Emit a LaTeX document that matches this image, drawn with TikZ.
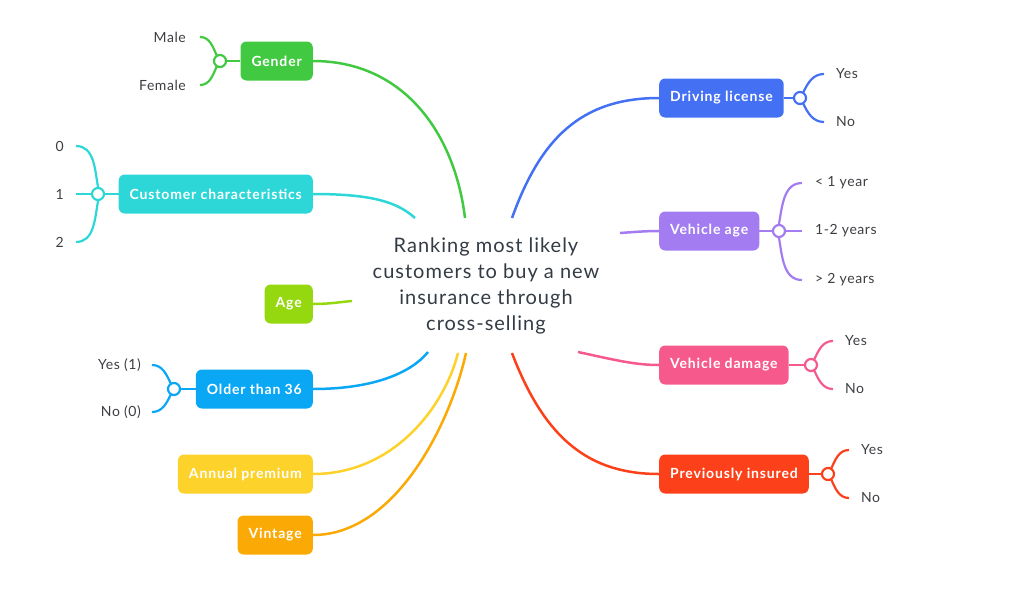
\documentclass[tikz,border=0pt]{standalone}
\usepackage{fontspec}
\setmainfont{Lato}
\newfontfamily\rootfont[LetterSpace=5]{Lato}
\newfontfamily\topicfont[LetterSpace=6]{Lato}
\newfontfamily\leaffont[LetterSpace=4]{Lato}
\definecolor{cgender}{RGB}{65,201,65}
\definecolor{ccust}{RGB}{45,215,215}
\definecolor{cage}{RGB}{150,216,15}
\definecolor{colder}{RGB}{10,167,245}
\definecolor{cannual}{RGB}{252,210,43}
\definecolor{cvintage}{RGB}{251,170,5}
\definecolor{cdrive}{RGB}{68,112,244}
\definecolor{cvage}{RGB}{162,124,240}
\definecolor{cdamage}{RGB}{246,90,141}
\definecolor{cinsured}{RGB}{252,65,26}
\definecolor{cleaf}{RGB}{60,62,66}
\definecolor{croot}{RGB}{51,59,68}
\begin{document}
\begin{tikzpicture}[
    x=1pt, y=-1pt,
    root/.style={align=center, text=croot, font=\rootfont\fontsize{20}{26}\selectfont},
    topic/.style={rounded corners=6pt, minimum height=39pt, inner xsep=11pt, text=white, font=\topicfont\bfseries\fontsize{14}{16}\selectfont},
    hub/.style={circle, draw, fill=white, line width=2.2pt, minimum size=12pt, inner sep=0pt},
    leaf/.style={text=cleaf, inner sep=0pt, font=\leaffont\fontsize{14}{16}\selectfont},
    link/.style={line width=2.5pt},
    twig/.style={line width=2.2pt}
]
\useasboundingbox (0,0) rectangle (1021,600);

% Central topic
\node[root] (root) at (486,286) {Ranking most likely\\customers to buy a new\\insurance through\\cross-selling};

% Ends of the links at the central topic
\coordinate (rgender) at (465,218);
\coordinate (rcust) at (415,218);
\coordinate (rage) at (352,301);
\coordinate (rolder) at (428,352);
\coordinate (rannual) at (458,353);
\coordinate (rvintage) at (466,353);
\coordinate (rdrive) at (512,218);
\coordinate (rvage) at (620,233);
\coordinate (rdamage) at (578,352);
\coordinate (rinsured) at (512,353);

% Left topics
\node[topic, fill=cgender, anchor=east] (gender) at (313,61) {Gender};
\node[topic, fill=ccust, anchor=east] (cust) at (313,194) {Customer characteristics};
\node[topic, fill=cage, anchor=east] (age) at (313,304) {Age};
\node[topic, fill=colder, anchor=east] (older) at (313,389) {Older than 36};
\node[topic, fill=cannual, anchor=east] (annual) at (313,474) {Annual premium};
\node[topic, fill=cvintage, anchor=east] (vintage) at (313,535) {Vintage};

% Right topics
\node[topic, fill=cdrive, anchor=west] (drive) at (659,98) {Driving license};
\node[topic, fill=cvage, anchor=west] (vage) at (659,231) {Vehicle age};
\node[topic, fill=cdamage, anchor=west] (damage) at (659,365) {Vehicle damage};
\node[topic, fill=cinsured, anchor=west] (insured) at (659,474) {Previously insured};

% Links from the central topic
\draw[link, cgender] (gender.east) .. controls (405,61) and (455,135) .. (rgender);
\draw[link, ccust] (cust.east) .. controls (375,194) and (398,203) .. (rcust);
\draw[link, cage] (age.east) .. controls (330,304) and (340,302) .. (rage);
\draw[link, colder] (older.east) .. controls (375,389) and (412,372) .. (rolder);
\draw[link, cannual] (annual.east) .. controls (395,474) and (445,405) .. (rannual);
\draw[link, cvintage] (vintage.east) .. controls (395,535) and (450,425) .. (rvintage);
\draw[link, cdrive] (rdrive) .. controls (540,140) and (580,98) .. (drive.west);
\draw[link, cvage] (rvage) .. controls (635,232) and (645,231) .. (vage.west);
\draw[link, cdamage] (rdamage) .. controls (615,360) and (635,365) .. (damage.west);
\draw[link, cinsured] (rinsured) .. controls (545,440) and (590,474) .. (insured.west);

% Hubs
\node[hub, draw=cgender] (hgender) at (220,61) {};
\node[hub, draw=ccust] (hcust) at (98,194) {};
\node[hub, draw=colder] (holder) at (174,389) {};
\node[hub, draw=cdrive] (hdrive) at (800,98) {};
\node[hub, draw=cvage] (hvage) at (779,231) {};
\node[hub, draw=cdamage] (hdamage) at (811,365) {};
\node[hub, draw=cinsured] (hinsured) at (828,474) {};

\draw[twig, cgender] (gender.west) -- (hgender.east);
\draw[twig, ccust] (cust.west) -- (hcust.east);
\draw[twig, colder] (older.west) -- (holder.east);
\draw[twig, cdrive] (drive.east) -- (hdrive.west);
\draw[twig, cvage] (vage.east) -- (hvage.west);
\draw[twig, cdamage] (damage.east) -- (hdamage.west);
\draw[twig, cinsured] (insured.east) -- (hinsured.west);

% Leaves
\node[leaf, anchor=east] (male) at (186,37) {Male};
\node[leaf, anchor=east] (female) at (186,85) {Female};
\node[leaf, anchor=east] (c0) at (64,146) {0};
\node[leaf, anchor=east] (c1) at (64,194) {1};
\node[leaf, anchor=east] (c2) at (64,242) {2};
\node[leaf, anchor=east] (oyes) at (141,365) {Yes (1)};
\node[leaf, anchor=east] (ono) at (141,412) {No (0)};
\node[leaf, anchor=west] (dyes) at (836,74) {Yes};
\node[leaf, anchor=west] (dno) at (836,122) {No};
\node[leaf, anchor=west] (va1) at (815,183) {< 1 year};
\node[leaf, anchor=west] (va2) at (815,231) {1-2 years};
\node[leaf, anchor=west] (va3) at (815,280) {> 2 years};
\node[leaf, anchor=west] (vdyes) at (845,341) {Yes};
\node[leaf, anchor=west] (vdno) at (845,389) {No};
\node[leaf, anchor=west] (piyes) at (861,450) {Yes};
\node[leaf, anchor=west] (pino) at (861,498) {No};

% Twigs to the leaves
\draw[twig, cgender] (hgender) ++(-3,-5) to[out=115, in=0] ([xshift=14]male.east);
\draw[twig, cgender] (hgender) ++(-3,5) to[out=-115, in=0] ([xshift=14]female.east);
\draw[twig, ccust] (hcust.north) to[out=100, in=0] ([xshift=12]c0.east);
\draw[twig, ccust] (hcust.west) -- ([xshift=12]c1.east);
\draw[twig, ccust] (hcust.south) to[out=-100, in=0] ([xshift=12]c2.east);
\draw[twig, colder] (holder) ++(-3,-5) to[out=115, in=0] ([xshift=11]oyes.east);
\draw[twig, colder] (holder) ++(-3,5) to[out=-115, in=0] ([xshift=11]ono.east);
\draw[twig, cdrive] (hdrive) ++(3,-5) to[out=65, in=180] ([xshift=-12]dyes.west);
\draw[twig, cdrive] (hdrive) ++(3,5) to[out=-65, in=180] ([xshift=-12]dno.west);
\draw[twig, cvage] (hvage.north) to[out=80, in=180] ([xshift=-13]va1.west);
\draw[twig, cvage] (hvage.east) -- ([xshift=-13]va2.west);
\draw[twig, cvage] (hvage.south) to[out=-80, in=180] ([xshift=-13]va3.west);
\draw[twig, cdamage] (hdamage) ++(3,-5) to[out=65, in=180] ([xshift=-12]vdyes.west);
\draw[twig, cdamage] (hdamage) ++(3,5) to[out=-65, in=180] ([xshift=-12]vdno.west);
\draw[twig, cinsured] (hinsured) ++(3,-5) to[out=65, in=180] ([xshift=-12]piyes.west);
\draw[twig, cinsured] (hinsured) ++(3,5) to[out=-65, in=180] ([xshift=-12]pino.west);

\end{tikzpicture}
\end{document}
